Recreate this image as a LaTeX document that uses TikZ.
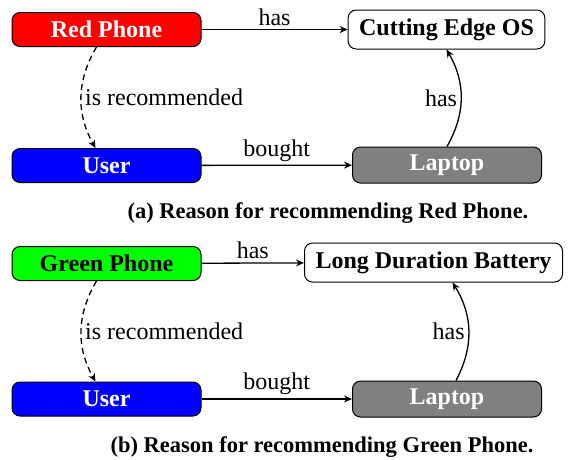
\documentclass[tikz,border=0pt]{standalone}
\usepackage{fontspec}
\setmainfont{Liberation Serif}
\usetikzlibrary{arrows.meta}
\tikzset{
  entity/.style={draw, line width=1pt, rounded corners=8pt, minimum width=189pt, minimum height=34pt, font=\fontsize{24}{28}\selectfont\bfseries, inner xsep=11pt, inner ysep=4pt},
  relation/.style={-{Stealth[length=8pt,width=7pt]}, line width=1.3pt},
  recommend/.style={relation, dash pattern=on 6pt off 4pt},
  caption/.style={font=\fontsize{22.5}{27}\selectfont\bfseries},
}
\begin{document}
\begin{tikzpicture}[x=1pt, y=-1pt, font=\fontsize{24}{28}\selectfont]
  \useasboundingbox (0,0) rectangle (571,459);
  % (a) red phone
  \node [entity, fill=red, text=white] (redphone) at (106.5,29.5) {Red Phone};
  \node [entity, fill=blue, text=white] (usera) at (106.5,165.5) {User};
  \node [entity, minimum width=0pt, minimum height=39pt] (os) at (446.5,29.5) {Cutting Edge OS};
  \node [entity, fill=gray, text=white, minimum height=36pt] (laptopa) at (447,165) {Laptop};
  \draw [relation] (redphone) -- (os) node [above, pos=0.5] {has};
  \draw [relation] (usera) -- (laptopa) node [above, pos=0.5] {bought};
  \draw [relation] (laptopa.north) to [bend right=30] node [left] {has} (os.south);
  \draw [recommend] ([xshift=-10pt]redphone.south) to [bend right=30] node [right] {is recommended} ([xshift=-11pt]usera.north);
  \node [caption] (capa) at (328,213) {(a) Reason for recommending Red Phone.};
  % (b) green phone
  \node [entity, fill=green, text=black] (greenphone) at (106.5,263.5) {Green Phone};
  \node [entity, fill=blue, text=white] (userb) at (106.5,399) {User};
  \node [entity, minimum width=0pt, minimum height=39pt] (battery) at (433.5,262.5) {Long Duration Battery};
  \node [entity, fill=gray, text=white, minimum height=36pt] (laptopb) at (447,399) {Laptop};
  \draw [relation] (greenphone) -- (battery) node [above, pos=0.5] {has};
  \draw [relation] (userb) -- (laptopb) node [above, pos=0.5] {bought};
  \draw [relation] ([xshift=9pt]laptopb.north) to [bend right=30] node [left] {has} ([xshift=19pt]battery.south);
  \draw [recommend] ([xshift=-10pt]greenphone.south) to [bend right=30] node [right] {is recommended} ([xshift=-11pt]userb.north);
  \node [caption] (capb) at (322,447) {(b) Reason for recommending Green Phone.};
\end{tikzpicture}
\end{document}
